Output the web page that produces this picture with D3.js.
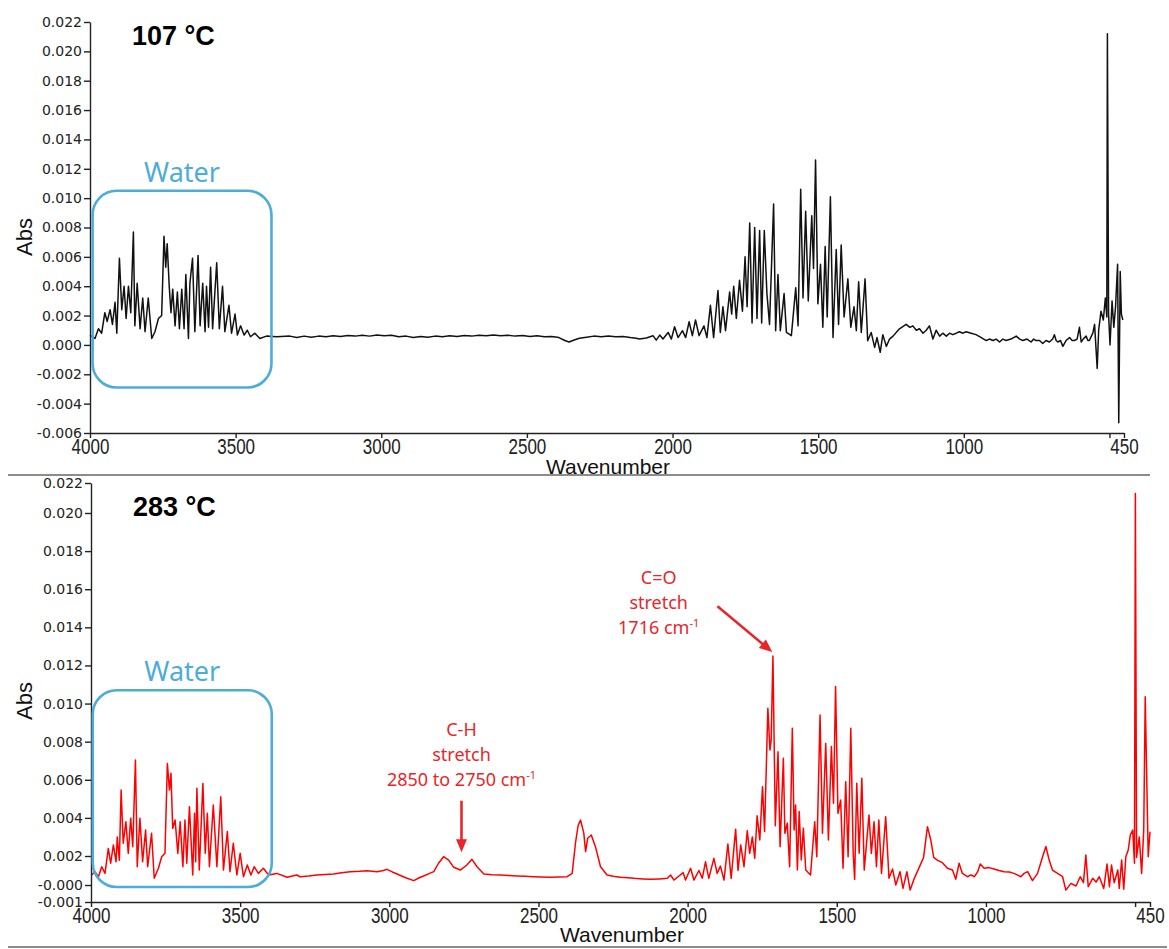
<!DOCTYPE html>
<html><head><meta charset="utf-8">
<script src="https://cdn.jsdelivr.net/npm/d3@7"></script>
<style>body{margin:0;background:#fff}svg{display:block}</style>
</head><body><svg id="c" width="1169" height="949"></svg>
<script>
// ---------- data ----------
const panelTitles = ["107 °C", "283 °C"];
const xTickValues = [4000, 3500, 3000, 2500, 2000, 1500, 1000, 500, 450];
const xTickLabels = ["4000", "3500", "3000", "2500", "2000", "1500", "1000", "", "450"];
const yTicksTop = [0.022,0.020,0.018,0.016,0.014,0.012,0.010,0.008,0.006,0.004,0.002,0.000,-0.002,-0.004,-0.006];
const yTickLabelsTop = ["0.022","0.020","0.018","0.016","0.014","0.012","0.010","0.008","0.006","0.004","0.002","0.000","-0.002","-0.004","-0.006"];
const yTicksBottom = [0.022,0.020,0.018,0.016,0.014,0.012,0.010,0.008,0.006,0.004,0.002,0.000,-0.001];
const yTickLabelsBottom = ["0.022","0.020","0.018","0.016","0.014","0.012","0.010","0.008","0.006","0.004","0.002","-0.000","-0.001"];
const axisTitleX = "Wavenumber";
const axisTitleY = "Abs";
const waterLabel = "Water";
const chLabel = ["C-H", "stretch", "2850 to 2750 cm"];
const coLabel = ["C=O", "stretch", "1716 cm"];

// [wavenumber, absorbance]
const spectrum107 = [
[4000,0.00067],[3983,0.00044],[3971,0.0011],[3960,0.0008],[3949,0.0022],[3941,0.0016],[3931,0.0024],[3923,0.0014],[3914,0.0029],[3908,0.0008],
[3899,0.0059],[3891,0.0024],[3883,0.0040],[3876,0.0018],[3868,0.0040],[3860,0.0022],[3851,0.0077],[3846,0.0013],[3838,0.0042],[3828,0.0011],
[3819,0.0032],[3811,0.0009],[3800,0.0032],[3788,0.00044],[3777,0.0009],[3765,0.0018],[3754,0.0020],[3746,0.0074],[3740,0.0053],[3735,0.0069],
[3728,0.0040],[3722,0.0022],[3716,0.0038],[3708,0.0013],[3700,0.0036],[3693,0.0011],[3685,0.0038],[3677,0.0011],[3671,0.0048],[3662,0.00044],
[3657,0.0042],[3648,0.0059],[3640,0.0009],[3629,0.0061],[3622,0.0013],[3613,0.0042],[3605,0.0009],[3600,0.0040],[3593,0.0012],[3586,0.0053],
[3579,0.0011],[3565,0.0056],[3556,0.0011],[3545,0.0040],[3537,0.0009],[3523,0.0027],[3514,0.0008],[3502,0.0021],[3494,0.00067],[3483,0.0013],
[3471,0.00067],[3460,0.0010],[3449,0.00056],[3434,0.0008],[3417,0.00044],[3394,0.0006],[3359,0.00056],[3314,0.0006],
[3290,0.0005],[3265,0.0006],[3240,0.00052],[3215,0.0006],[3190,0.00055],[3165,0.00062],[3140,0.00058],[3115,0.00065],[3090,0.0006],[3065,0.00066],
[3040,0.0006],[3015,0.00068],[2990,0.00062],[2965,0.00066],[2940,0.00055],[2915,0.0006],[2890,0.0005],[2865,0.00058],[2840,0.00052],[2815,0.0006],
[2790,0.00055],[2765,0.00062],[2740,0.00058],[2715,0.00064],[2690,0.0006],[2665,0.00066],[2640,0.00062],[2615,0.00068],[2590,0.00063],[2565,0.00066],
[2540,0.0006],[2515,0.00064],[2490,0.00058],[2465,0.00062],[2440,0.00055],[2415,0.00058],[2390,0.0005],[2370,0.0003],[2355,0.0002],[2340,0.00032],
[2320,0.00045],[2295,0.00052],[2270,0.0006],[2245,0.00055],[2220,0.0006],[2195,0.00055],[2170,0.00058],[2145,0.0005],[2125,0.00045],
[2113,0.0004],[2090,0.00047],[2067,0.00063],[2056,0.00033],[2044,0.00067],[2033,0.0004],[2015,0.00085],[2004,0.0004],[1993,0.00124],[1981,0.0005],
[1966,0.00097],[1955,0.0005],[1943,0.00158],[1932,0.00063],[1921,0.0017],[1909,0.00063],[1892,0.0013],[1882,0.0005],[1870,0.0027],[1859,0.0005],
[1844,0.0037],[1836,0.00085],[1827,0.0026],[1818,0.00097],[1804,0.0036],[1797,0.0021],[1790,0.0040],[1781,0.0018],[1770,0.0044],[1760,0.0023],
[1751,0.0060],[1744,0.0026],[1735,0.0083],[1727,0.0015],[1718,0.0080],[1710,0.0018],[1701,0.0078],[1694,0.0015],[1685,0.0078],[1676,0.0035],
[1667,0.0014],[1653,0.0096],[1646,0.00097],[1638,0.0048],[1630,0.00097],[1617,0.0035],[1609,0.00085],[1592,0.00063],[1577,0.0039],[1569,0.0013],
[1560,0.0106],[1552,0.0032],[1543,0.0091],[1534,0.0030],[1522,0.0088],[1516,0.0052],[1509,0.0126],[1501,0.0028],[1492,0.0055],[1484,0.0012],
[1476,0.0067],[1469,0.0019],[1458,0.0101],[1449,0.0005],[1438,0.0065],[1430,0.0014],[1421,0.0068],[1411,0.0019],[1398,0.0045],[1388,0.0012],
[1377,0.0026],[1369,0.00097],[1361,0.0043],[1352,0.00085],[1339,0.0045],[1330,0.00029],[1318,0.00085],[1306,-0.00017],[1298,0.0005],
[1287,-0.0005],[1278,0.0007],[1266,-0.0001],[1255,0.0004],[1243,0.0006],[1221,0.0011],[1198,0.0014],[1185,0.0012],[1175,0.0013],[1163,0.0010],
[1152,0.0011],[1140,0.0008],[1129,0.0010],[1118,0.0013],[1106,0.0004],[1095,0.0010],[1083,0.0006],[1072,0.0008],[1060,0.0006],[1049,0.0008],
[1038,0.0007],[1026,0.0008],[1015,0.0009],[1003,0.0008],[992,0.0009],[975,0.0008],[958,0.0007],[940,0.0005],[923,0.0003],[912,0.0004],
[900,0.0003],[889,0.0004],[877,0.0002],[866,0.0004],[855,0.0003],[838,0.0004],[820,0.0006],[808,0.0004],[797,0.0003],[783,0.0004],
[769,0.0002],[760,0.0004],[752,0.0003],[740,0.0003],[729,0.0001],[718,0.0003],[706,0.0002],[695,0.0004],[689,0.0007],[683,0.0003],
[677,0.0002],[668,0.0003],[660,-0.0001],[649,0.0003],[637,0.0005],[628,0.0003],[620,0.0003],[611,0.0004],[603,0.0012],[597,0.0002],
[590,0.0004],[580,0.0006],[574,0.0003],[569,0.0003],[562,0.0006],[557,0.0008],[551,0.0014],[542,-0.0016],[537,0.0010],[529,0.0023],
[521,0.0017],[514,0.0032],[509,0.0019],[507,0.0212],[503,0.0021],[498,0.0000],[491,0.0030],[485,0.0012],[479,0.0026],[472,0.0055],
[468,-0.0053],[463,0.0050],[459,0.0021],[454,0.0017]
];

const spectrum283 = [
[3998,0.00069],[3987,0.00092],[3975,0.00057],[3964,0.00126],[3953,0.0008],[3942,0.0024],[3934,0.0015],[3925,0.00258],[3916,0.0016],[3912,0.0030],
[3905,0.0017],[3899,0.00546],[3892,0.00267],[3883,0.0038],[3875,0.00214],[3867,0.00398],[3860,0.00249],[3851,0.00704],[3845,0.00126],[3836,0.00398],
[3827,0.0016],[3817,0.00336],[3810,0.00126],[3797,0.00319],[3788,0.00046],[3774,0.00115],[3763,0.00195],[3752,0.00214],[3744,0.00686],[3737,0.00546],
[3732,0.00634],[3726,0.00345],[3718,0.00389],[3709,0.00214],[3701,0.0038],[3692,0.00126],[3685,0.00389],[3679,0.0015],[3670,0.00459],[3659,0.00069],
[3653,0.00424],[3649,0.0016],[3645,0.00555],[3637,0.00103],[3625,0.00581],[3617,0.00214],[3610,0.00424],[3603,0.00126],[3590,0.00468],[3578,0.00126],
[3565,0.00511],[3556,0.00103],[3543,0.00328],[3534,0.00092],[3523,0.00267],[3511,0.00069],[3500,0.00214],[3489,0.00057],[3476,0.00138],[3464,0.00069],
[3453,0.00126],[3439,0.0008],[3422,0.00115],[3405,0.00069],[3377,0.0008],[3343,0.00053],[3310,0.00069],
[3299,0.00057],[3270,0.00062],[3243,0.00069],[3215,0.00072],[3187,0.00076],[3160,0.00085],[3131,0.00092],[3100,0.00095],[3075,0.00099],[3041,0.00092],
[3020,0.001],[3008,0.00108],[2990,0.0009],[2974,0.00076],[2945,0.0005],[2918,0.0003],[2900,0.0005],[2885,0.00062],[2865,0.0008],[2851,0.00092],
[2835,0.0015],[2818,0.00195],[2801,0.00172],[2784,0.00122],[2762,0.00103],[2740,0.00138],[2723,0.00177],[2706,0.00126],[2683,0.00076],[2655,0.0007],
[2628,0.00069],[2600,0.00065],[2572,0.00062],[2545,0.0006],[2516,0.00057],[2490,0.00055],[2460,0.00053],[2430,0.00055],[2404,0.00057],[2387,0.0008],
[2376,0.00267],[2367,0.0036],[2359,0.00389],[2348,0.0032],[2342,0.00223],[2335,0.00293],[2323,0.0031],[2309,0.00249],[2292,0.00126],[2270,0.00069],
[2250,0.0006],[2225,0.00053],[2200,0.0005],[2180,0.00046],[2150,0.00042],[2124,0.00039],[2095,0.00042],[2068,0.00046],[2057,0.00069],[2046,0.00034],
[2029,0.00062],[2015,0.00085],[2007,0.00034],[1990,0.00115],[1979,0.00034],[1962,0.001],[1951,0.00046],[1940,0.0016],[1929,0.00046],[1912,0.00184],
[1901,0.0008],
[1890,0.0013],[1878,0.00034],[1865,0.00263],[1854,0.00046],[1839,0.00341],[1831,0.001],[1822,0.00258],[1811,0.00126],[1800,0.00333],[1792,0.00214],
[1783,0.003],[1775,0.00184],[1767,0.00411],[1758,0.00284],[1749,0.00564],[1742,0.00328],[1731,0.00975],[1724,0.00756],[1720,0.00809],[1714,0.0125],
[1706,0.00359],[1697,0.00747],[1690,0.00249],[1679,0.00713],[1674,0.00319],[1666,0.00372],[1658,0.00126],[1649,0.0087],[1643,0.00336],[1638,0.00468],
[1632,0.00103],[1626,0.00433],[1619,0.00172],[1612,0.00345],[1604,0.00103],[1588,0.00069],[1574,0.0038],[1567,0.00195],[1556,0.0094],[1548,0.00319],
[1537,0.00791],[1528,0.00284],[1518,0.00774],[1511,0.00477],[1504,0.0109],[1496,0.00424],[1487,0.00494],[1479,0.00115],[1470,0.0059],[1462,0.00195],
[1453,0.0087],[1445,0.00214],[1440,0.00039],[1433,0.00582],[1425,0.00214],[1416,0.00608],[1408,0.00103],[1392,0.00415],[1384,0.00214],[1375,0.0038],
[1367,0.00126],[1359,0.00389],[1350,0.0008],[1336,0.00406],[1325,0.00046],[1313,0.0011],[1302,0.0],[1288,0.00092],[1278,-0.0002],[1265,0.00092],
[1254,-0.0003],[1240,0.00046],[1224,0.0012],[1209,0.0019],[1196,0.00354],[1185,0.00284],[1175,0.0019],[1162,0.0017],[1146,0.00154],[1129,0.00115],
[1112,0.00103],[1101,0.0004],
[1090,0.0015],[1079,0.0008],[1062,0.00057],[1050,0.0007],[1039,0.00057],[1028,0.0009],[1019,0.00145],[1006,0.00115],[990,0.0012],[973,0.0011],
[956,0.001],[939,0.00092],[922,0.0009],[906,0.0008],[895,0.0007],[883,0.00057],[872,0.0008],[860,0.00092],[844,0.0003],[827,0.0008],
[810,0.00195],[799,0.0025],[788,0.00172],[777,0.00103],[760,0.0008],[743,0.00057],[732,-0.0003],[715,0.00011],[698,-0.00006],[684,0.00057],
[673,0.00016],[665,0.00205],[657,-0.0001],[642,0.00046],[631,0.0002],[620,0.00057],[605,-0.0002],[594,0.00145],[586,-0.0001],[579,0.00138],
[570,0.00016],[558,0.00103],[553,-0.0002],[545,0.00172],[538,-0.00025],[531,0.00195],[523,0.00231],[516,0.0031],[508,0.00336],
[502,0.0015],[499,0.0213],[495,0.0019],[486,0.003],[478,0.0008],[471,0.00336],[466,0.01036],[460,0.00529],[456,0.00195],[450,0.00328]
];

// ---------- drawing ----------
const svg = d3.select("#c");
const SANS = "'Liberation Sans', Arial, sans-serif";
const WATER = "#4dadd9";
const RED_TXT = "#e8262a";

const panels = [
  { title: panelTitles[0], data: spectrum107, color: "#111",
    x: d3.scaleLinear().domain([4000, 450]).range([90, 1124]),
    y: d3.scaleLinear().domain([-0.006, 0.022]).range([433, 22]),
    yTicks: yTicksTop, yLabels: yTickLabelsTop,
    titleY: 45, water: [3991, 3377, 0.0105, -0.0029],
    xTitle: [608, 474], yTitleY: 237, sep: [475, 8, 1150] },
  { title: panelTitles[1], data: spectrum283, color: "#ff0000",
    x: d3.scaleLinear().domain([4000, 450]).range([91, 1150]),
    y: d3.scaleLinear().domain([-0.001, 0, 0.002, 0.020, 0.022]).range([902, 885, 856, 513, 483]),
    yTicks: yTicksBottom, yLabels: yTickLabelsBottom,
    titleY: 516, water: [3994, 3394, 0.0107, -0.00012],
    xTitle: [622, 942], yTitleY: 701, sep: [947, 8, 1167] }
];

function arrow(g, x1, y1, x2, y2, color) {
  const dx = x2 - x1, dy = y2 - y1, L = Math.hypot(dx, dy);
  const ux = dx / L, uy = dy / L, hl = 13, hw = 5.5;
  const bx = x2 - ux * hl, by = y2 - uy * hl;
  g.append("line").attr("x1", x1).attr("y1", y1).attr("x2", bx + ux * 2).attr("y2", by + uy * 2)
    .attr("stroke", color).attr("stroke-width", 2.6);
  g.append("path").attr("d", `M${x2},${y2}L${bx - uy * hw},${by + ux * hw}L${bx + uy * hw},${by - ux * hw}Z`)
    .attr("fill", color);
}

function multiLabel(g, cx, baseY, lines) {
  lines.forEach((t, i) => {
    const txt = g.append("text").attr("x", cx).attr("y", baseY + i * 25)
      .attr("text-anchor", "middle").attr("font-family", "'Noto Sans', sans-serif")
      .attr("font-size", 18).attr("fill", RED_TXT);
    txt.append("tspan").text(t);
    if (i === lines.length - 1) {
      txt.append("tspan").attr("font-size", 11).attr("dy", -7).text("-1");
    }
  });
}

panels.forEach((p, pi) => {
  const g = svg.append("g");
  const [xr0] = p.x.range();
  const yBottom = d3.max(p.y.range());

  // spectrum
  const line = d3.line().x(d => p.x(d[0])).y(d => p.y(d[1]));
  g.append("path").datum(p.data).attr("d", line)
    .attr("fill", "none").attr("stroke", p.color).attr("stroke-width", 1.5)
    .attr("stroke-linejoin", "round");

  // y axis
  const gy = g.append("g").attr("transform", `translate(${xr0},0)`)
    .call(d3.axisLeft(p.y).tickValues(p.yTicks).tickFormat((d, i) => p.yLabels[i])
      .tickSize(6).tickPadding(2).tickSizeOuter(0));
  gy.selectAll("text").attr("font-family", "'DejaVu Sans', sans-serif").attr("font-size", 14).attr("fill", "#222");
  gy.selectAll("line,path").attr("stroke", "#222").attr("stroke-width", 1.4);

  // x axis
  const gx = g.append("g").attr("transform", `translate(0,${yBottom})`)
    .call(d3.axisBottom(p.x).tickValues(xTickValues).tickFormat((d, i) => xTickLabels[i])
      .tickSize(5).tickSizeOuter(0));
  gx.selectAll("text").attr("y", 0).attr("dy", null)
    .attr("transform", "translate(0,21) scale(1,1.28)")
    .attr("font-family", SANS).attr("font-size", 17).attr("fill", "#222");
  gx.selectAll("line,path").attr("stroke", "#222").attr("stroke-width", 1.4);

  // axis titles
  g.append("text").attr("x", p.xTitle[0]).attr("y", p.xTitle[1]).attr("text-anchor", "middle")
    .attr("font-family", SANS).attr("font-size", 21).attr("fill", "#111").text(axisTitleX);
  g.append("text").attr("transform", `translate(32,${p.yTitleY}) rotate(-90)`).attr("text-anchor", "middle")
    .attr("font-family", SANS).attr("font-size", 22).attr("fill", "#111").text(axisTitleY);

  // panel title
  g.append("text").attr("x", xr0 + 42).attr("y", p.titleY)
    .attr("font-family", SANS).attr("font-weight", "bold").attr("font-size", 27).attr("fill", "#000").text(p.title);

  // water box
  const [w0, w1, a0, a1] = p.water;
  const bx = p.x(w0), bw = p.x(w1) - p.x(w0), by = p.y(a0), bh = p.y(a1) - p.y(a0);
  g.append("rect").attr("x", bx).attr("y", by).attr("width", bw).attr("height", bh).attr("rx", 24)
    .attr("fill", "none").attr("stroke", WATER).attr("stroke-width", 2.6);
  g.append("text").attr("x", bx + bw / 2).attr("y", by - 9).attr("text-anchor", "middle")
    .attr("font-family", "'Noto Sans', sans-serif").attr("font-size", 27).attr("fill", WATER).text(waterLabel);

  // separator
  svg.append("line").attr("x1", p.sep[1]).attr("x2", p.sep[2]).attr("y1", p.sep[0]).attr("y2", p.sep[0])
    .attr("stroke", "#8c8c8c").attr("stroke-width", 2);

  if (pi === 1) {
    // C-H annotation
    const chx = p.x(2758), chTop = p.y(0.0049), chTip = p.y(0.0022);
    arrow(g, chx, chTop, chx, chTip, RED_TXT);
    multiLabel(g, chx, chTop - 65, chLabel);
    // C=O annotation
    const sx = p.x(1900), sy = p.y(0.0151), ex = p.x(1716), ey = p.y(0.0127);
    arrow(g, sx, sy, ex, ey, RED_TXT);
    multiLabel(g, p.x(2097), sy - 22, coLabel);
  }
});
</script>
</body></html>
